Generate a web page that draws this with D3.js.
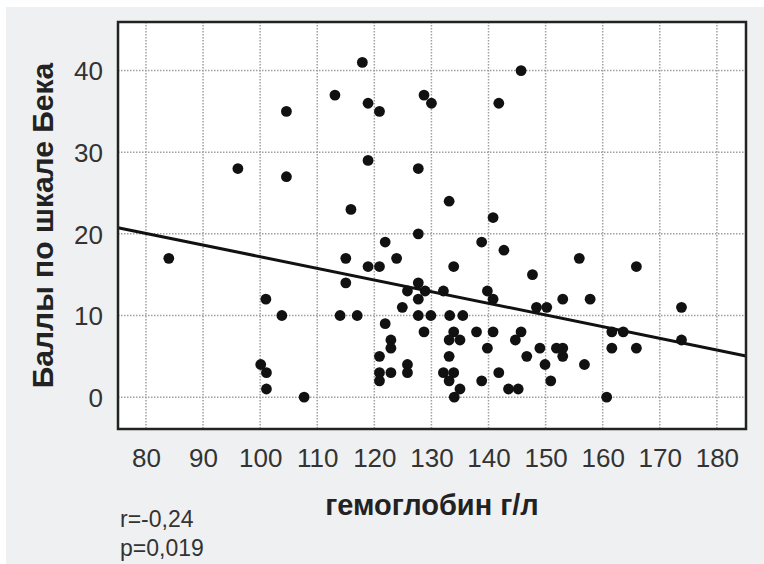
<!DOCTYPE html>
<html>
<head>
<meta charset="utf-8">
<script src="https://cdn.jsdelivr.net/npm/d3@7"></script>
<style>
  body { margin: 0; background: #fff; }
  text { font-family: "Liberation Sans", Arial, sans-serif; }
</style>
</head>
<body>
<div id="chart"></div>
<script>
// hemoglobin, g/l
const hb = [84, 96.1, 104.6, 104.6, 101, 103.8, 100.1, 101.1, 101.1, 107.7,
  117.9, 113.1, 118.9, 120.9, 128.7, 130, 118.9, 127.7, 115.9, 127.7,
  145.7, 141.8, 133.1, 140.8, 121.9, 115, 118.9, 120.9, 123.9, 115,
  127.7, 125.8, 127.7, 128.9, 124.9, 114, 117, 127.7, 129.9, 128.7,
  121.9, 122.9, 122.9, 120.9, 125.8, 125.8, 120.9, 122.9, 120.9, 138.8,
  142.7, 133.9, 147.7, 155.9, 132.1, 139.8, 140.8, 153, 157.8, 148.4,
  150.2, 133.2, 135.5, 133.9, 137.9, 140.8, 145.7, 133.1, 135, 144.7,
  139.8, 149, 151.9, 153, 153, 133.1, 146.7, 156.8, 149.9, 132.1,
  133.9, 133.1, 141.8, 138.8, 150.9, 135, 134, 143.5, 145.2, 165.9,
  173.8, 161.6, 163.6, 173.8, 161.6, 165.9, 160.7]
// Beck scale score
const beck = [17, 28, 35, 27, 12, 10, 4, 3, 1, 0,
  41, 37, 36, 35, 37, 36, 29, 28, 23, 20,
  40, 36, 24, 22, 19, 17, 16, 16, 17, 14,
  14, 13, 12, 13, 11, 10, 10, 10, 10, 8,
  9, 7, 6, 5, 4, 3, 3, 3, 2, 19,
  18, 16, 15, 17, 13, 13, 12, 12, 12, 11,
  11, 10, 10, 8, 8, 8, 8, 7, 7, 7,
  6, 6, 6, 6, 5, 5, 5, 4, 4, 3,
  3, 2, 3, 2, 2, 1, 0, 1, 1, 16,
  11, 8, 8, 7, 6, 6, 0]

const xTicks = [80, 90, 100, 110, 120, 130, 140, 150, 160, 170, 180]
const yTicks = [0, 10, 20, 30, 40]
const fitLine = { slope: -0.1428, intercept: 31.48 }
const statLines = ['r=-0,24', 'p=0,019']

const W = 764, H = 564
const plot = { left: 118, top: 22, right: 746, bottom: 429 }

const svg = d3.select('#chart')
  .append('svg')
  .attr('width', W)
  .attr('height', H)

svg.append('rect')
  .attr('x', 6).attr('y', 7)
  .attr('width', W - 6).attr('height', H - 7)
  .attr('fill', '#eff0f1')

const x = d3.scaleLinear().domain([75.1, 185.1]).range([plot.left, plot.right])
const y = d3.scaleLinear().domain([-3.9, 45.95]).range([plot.bottom, plot.top])

svg.append('rect')
  .attr('x', plot.left).attr('y', plot.top)
  .attr('width', plot.right - plot.left)
  .attr('height', plot.bottom - plot.top)
  .attr('fill', '#fff')

// grid
const grid = svg.append('g')
  .attr('stroke', '#a0a0a0')
  .attr('stroke-width', 1.5)
  .attr('stroke-dasharray', '1.5,1.5')

grid.selectAll('.vx')
  .data(xTicks)
  .enter()
  .append('line')
  .attr('x1', d => x(d)).attr('x2', d => x(d))
  .attr('y1', plot.top).attr('y2', plot.bottom)

grid.selectAll('.hy')
  .data(yTicks)
  .enter()
  .append('line')
  .attr('x1', plot.left).attr('x2', plot.right)
  .attr('y1', d => y(d)).attr('y2', d => y(d))

// axes labels (no tick marks)
const xAxis = svg.append('g')
  .attr('transform', 'translate(0,' + (plot.bottom + 38) + ')')
  .call(d3.axisBottom(x).tickValues(xTicks).tickSize(0).tickPadding(0))
xAxis.select('.domain').remove()
xAxis.selectAll('text')
  .attr('fill', '#333')
  .attr('font-size', 26)
  .attr('dy', 0)

const yAxis = svg.append('g')
  .attr('transform', 'translate(' + (plot.left - 15) + ',0)')
  .call(d3.axisLeft(y).tickValues(yTicks).tickSize(0).tickPadding(0))
yAxis.select('.domain').remove()
yAxis.selectAll('text')
  .attr('fill', '#333')
  .attr('font-size', 26)
  .attr('dy', '0.36em')

// points
svg.append('g')
  .selectAll('circle')
  .data(hb.map((h, i) => [h, beck[i]]))
  .enter()
  .append('circle')
  .attr('cx', d => x(d[0]))
  .attr('cy', d => y(d[1]))
  .attr('r', 5.4)
  .attr('fill', '#111')

// regression line
const xd = x.domain()
svg.append('line')
  .attr('x1', x(xd[0])).attr('y1', y(fitLine.intercept + fitLine.slope * xd[0]))
  .attr('x2', x(xd[1])).attr('y2', y(fitLine.intercept + fitLine.slope * xd[1]))
  .attr('stroke', '#111')
  .attr('stroke-width', 3)

// frame
svg.append('rect')
  .attr('x', plot.left).attr('y', plot.top)
  .attr('width', plot.right - plot.left)
  .attr('height', plot.bottom - plot.top)
  .attr('fill', 'none')
  .attr('stroke', '#222')
  .attr('stroke-width', 2.5)

// titles
svg.append('text')
  .attr('x', 432)
  .attr('y', 515)
  .attr('text-anchor', 'middle')
  .attr('font-size', 29)
  .attr('font-weight', 'bold')
  .attr('fill', '#222')
  .text('гемоглобин г/л')

svg.append('text')
  .attr('transform', 'translate(53,' + ((plot.top + plot.bottom) / 2) + ') rotate(-90)')
  .attr('text-anchor', 'middle')
  .attr('font-size', 30)
  .attr('font-weight', 'bold')
  .attr('fill', '#222')
  .text('Баллы по шкале Бека')

svg.selectAll('.stat')
  .data(statLines)
  .enter()
  .append('text')
  .attr('x', 120)
  .attr('y', (d, i) => 527 + i * 29)
  .attr('font-size', 23)
  .attr('fill', '#333')
  .text(d => d)
</script>
</body>
</html>
